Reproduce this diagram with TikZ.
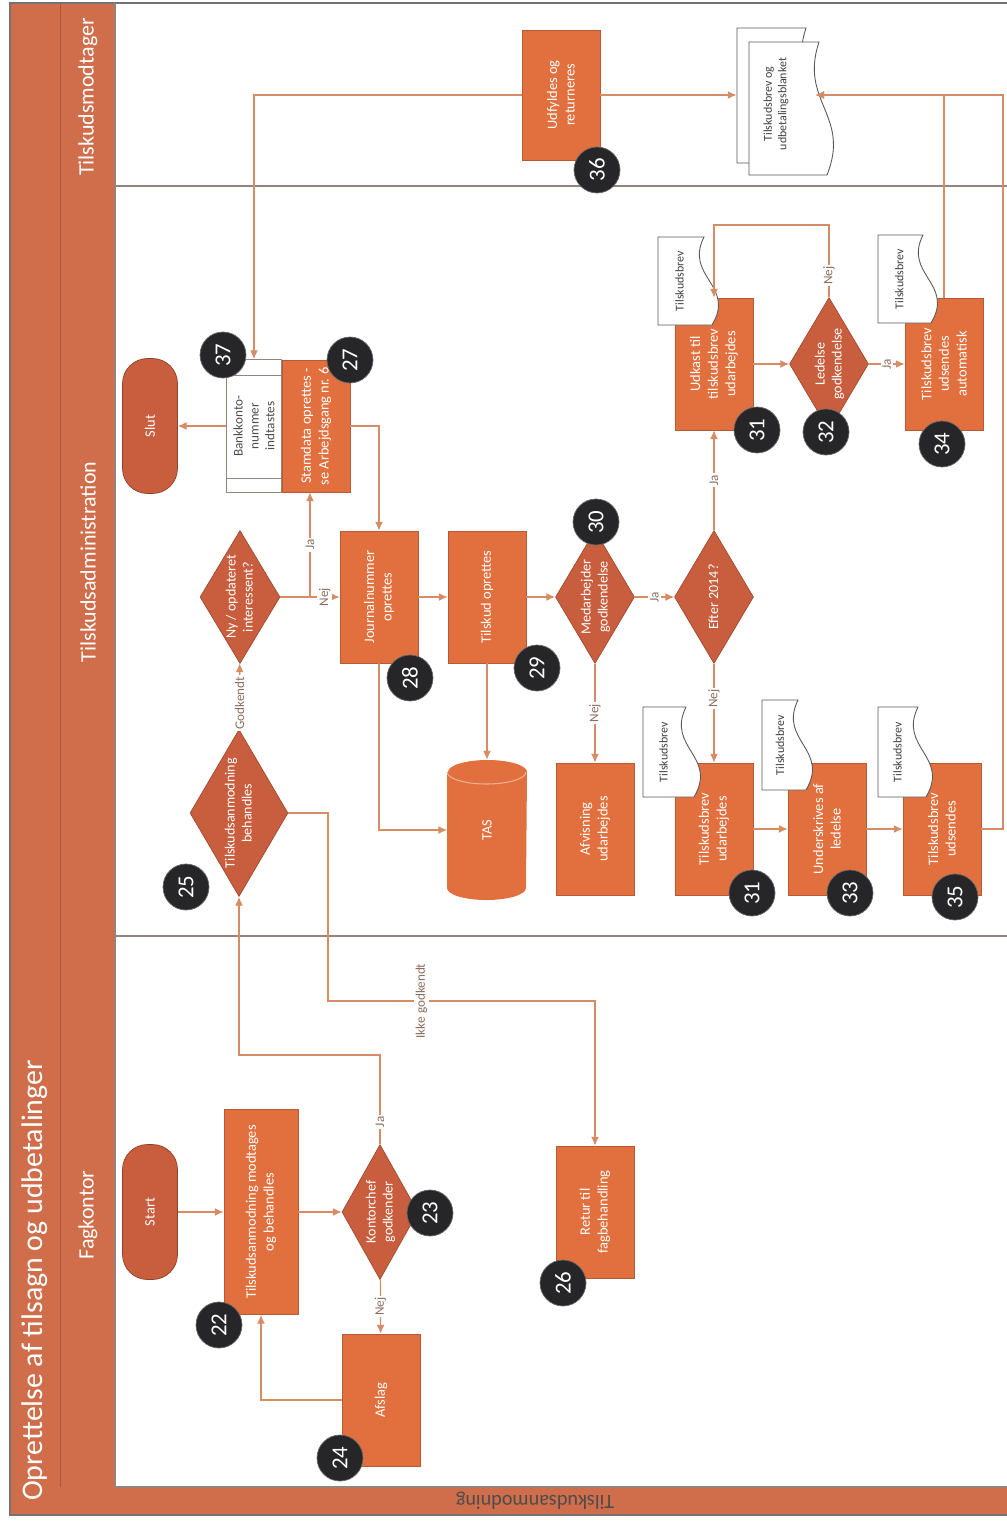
\documentclass[tikz,border=0pt]{standalone}
\usepackage{fontspec}
\setmainfont{Carlito}
\usetikzlibrary{arrows.meta,shapes.geometric,calc}

\definecolor{boxorange}{RGB}{226,112,62}
\definecolor{diaorange}{RGB}{200,94,62}
\definecolor{bandorange}{RGB}{208,110,76}
\definecolor{flowline}{RGB}{214,140,100}
\definecolor{laneline}{RGB}{150,132,124}
\definecolor{badgegray}{RGB}{38,38,40}
\definecolor{lbltext}{RGB}{140,110,95}

% text in a diamond without growing it
\newcommand{\dtext}[1]{\makebox[0pt]{\raisebox{-0.3em}[0pt][0pt]{\begin{tabular}{@{}c@{}}#1\end{tabular}}}}
% document outline, wavy edge to the right
\newcommand{\docpath}[4]{%
  \filldraw[docline] (#1,#2) -- ({#3-14},#2) .. controls ({#3-34},{#2+0.45*(#4-#2)}) and ({#3+18},{#2+0.55*(#4-#2)}) .. ({#3-6},#4) -- (#1,#4) -- cycle;}
\newcommand{\tdoc}[6]{%
  \docpath{#2}{#3}{#4}{#5}
  \node[doctext] (#1) at ({#2+0.36*(#4-#2)},{(#3+#5)/2}) {#6};}

\begin{document}
\begin{tikzpicture}[x=0.02cm,y=-0.02cm,>={Latex[length=5pt,width=4.5pt]},
  box/.style={rectangle,rotate=90,fill=boxorange,draw=boxorange!80!black,line width=0.4pt,text=white,align=center,font=\fontsize{8.2}{10}\selectfont,minimum width=2.64cm,minimum height=1.56cm,inner sep=1pt},
  decision/.style={diamond,rotate=90,fill=diaorange,draw=diaorange!80!black,line width=0.4pt,text=white,font=\fontsize{8}{9.6}\selectfont,minimum width=2.66cm,minimum height=1.58cm,inner sep=0pt},
  terminal/.style={rectangle,rounded corners=0.5cm,rotate=90,fill=diaorange,draw=diaorange!70!black,text=white,font=\fontsize{8.2}{10}\selectfont,minimum width=2.7cm,minimum height=1.1cm},
  subproc/.style={rectangle,rotate=90,fill=white,draw=laneline,text=black!70,align=center,font=\fontsize{7.5}{9}\selectfont,minimum width=2.66cm,minimum height=1.1cm,inner sep=1pt},
  dbtext/.style={rectangle,rotate=90,text=white,font=\fontsize{8.2}{10}\selectfont,minimum width=2.8cm,minimum height=1.58cm},
  badge/.style={circle,fill=badgegray,draw=badgegray!70!white,text=white,rotate=90,font=\fontsize{13}{13}\selectfont,minimum size=0.92cm,inner sep=0pt},
  flow/.style={draw=flowline,line width=0.7pt},
  lbl/.style={rotate=90,fill=white,inner sep=1pt,text=lbltext,font=\fontsize{7.5}{8}\selectfont},
  docline/.style={fill=white,draw=black!65,line width=0.5pt},
  doctext/.style={rotate=90,text=black!75,font=\fontsize{6.8}{8.2}\selectfont,inner sep=0pt},
  lanetext/.style={rotate=90,text=white,font=\fontsize{12.5}{14}\selectfont}]
  \useasboundingbox (0,0) rectangle (1007,1521);

  % ramme og baner
  \fill[bandorange] (10,3) rectangle (115,1515);
  \fill[bandorange] (10,1487) rectangle (1007,1515);
  \draw[black!55,line width=0.8pt] (1007,3) -- (10,3) -- (10,1515) -- (1007,1515);
  \draw[bandorange!80!black,line width=0.5pt] (60,3) -- (60,1487);
  \draw[laneline,line width=0.8pt] (115,3) -- (115,1487) -- (1007,1487);
  \draw[laneline,line width=0.8pt] (115,186) -- (1007,186);
  \draw[laneline,line width=0.8pt] (115,936) -- (1007,936);
  \node[rotate=90,anchor=west,text=white,font=\fontsize{17}{20}\selectfont] (title) at (35,1507) {Oprettelse af tilsagn og udbetalinger};
  \node[lanetext] (laneM) at (88,97) {Tilskudsmodtager};
  \node[lanetext] (laneA) at (88,562) {Tilskudsadministration};
  \node[lanetext] (laneF) at (88,1215) {Fagkontor};
  \node[rotate=180,text=black!70,font=\fontsize{11.5}{13}\selectfont] (bandT) at (535,1501) {Tilskudsanmodning};

  % Fagkontor
  \node[terminal] (start) at (150,1212) {Start};
  \node[box,minimum width=4.1cm,minimum height=1.48cm] (n22) at (261,1212) {Tilskudsanmodning modtages\\og behandles};
  \node[decision,minimum width=2.7cm,minimum height=1.52cm] (n23) at (380,1212) {\dtext{Kontorchef\\godkender}};
  \node[box] (n24) at (381,1400) {Afslag};
  \node[box] (n26) at (595,1212) {Retur til\\fagbehandling};

  % Tilskudsadministration
  \node[decision,minimum width=3.34cm,minimum height=1.96cm] (n25) at (239,813) {\dtext{Tilskudsanmodning\\behandles}};
  \node[decision,minimum height=1.6cm] (nyint) at (240,597) {\dtext{Ny / opdateret\\interessent?}};
  \node[terminal] (slut) at (150,426) {Slut};
  \node[subproc] (n37) at (254,426) {Bankkonto-\\nummer\\indtastes};
  \draw[laneline] (227,375) -- (282,375) (227,478) -- (282,478);
  \node[box,minimum height=1.36cm] (n27) at (316,426) {Stamdata oprettes -\\se Arbejdsgang nr. 6};
  \node[box] (n28) at (379,597) {Journalnummer\\oprettes};
  \node[box] (n29) at (487,597) {Tilskud oprettes};
  % TAS som cylinder
  \fill[boxorange] (447,772) -- (447,888) arc[start angle=180,end angle=360,x radius=0.79cm,y radius=0.24cm]
    -- (527,772) arc[start angle=0,end angle=180,x radius=0.79cm,y radius=0.24cm] -- cycle;
  \draw[boxorange!55!white,line width=0.6pt] (447,772) arc[start angle=180,end angle=360,x radius=0.79cm,y radius=0.24cm];
  \node[dbtext] (tas) at (487,830) {TAS};
  \node[decision] (n30) at (595,597) {\dtext{Medarbejder\\godkendelse}};
  \node[box] (afv) at (595,829) {Afvisning\\udarbejdes};
  \node[decision] (efter) at (714,597) {\dtext{Efter 2014?}};
  \node[box] (n31a) at (714,364) {Udkast til\\tilskudsbrev\\udarbejdes};
  \node[decision] (n32) at (829,364) {\dtext{Ledelse\\godkendelse}};
  \node[box] (n34) at (944,364) {Tilskudsbrev\\udsendes\\automatisk};
  \node[box] (n31b) at (714,829) {Tilskudsbrev\\udarbejdes};
  \node[box] (n33) at (827,829) {Underskrives af\\ledelse};
  \node[box] (n35) at (942,829) {Tilskudsbrev\\udsendes};

  % Tilskudsmodtager
  \node[box,minimum width=2.6cm] (n36) at (561,95) {Udfyldes og\\returneres};
  \docpath{737}{28}{820}{163}
  \docpath{749}{42}{833}{175}
  \node[doctext,align=center,minimum width=2.8cm,minimum height=1.56cm] (mdoc) at (776,104) {Tilskudsbrev og\\udbetalingsblanket};

  % dokumenter
  \tdoc{d31a}{658}{237}{718}{325}{Tilskudsbrev}
  \tdoc{d34}{878}{235}{937}{323}{Tilskudsbrev}
  \tdoc{d31b}{643}{707}{700}{797}{Tilskudsbrev}
  \tdoc{d33}{762}{700}{812}{790}{Tilskudsbrev}
  \tdoc{d35}{878}{707}{932}{797}{Tilskudsbrev}

  % pile, Fagkontor
  \draw[flow,->] (start) -- (n22);
  \draw[flow,->] (n22) -- (n23);
  \draw[flow,->] (n23) -- node[lbl]{Nej} (n24);
  \draw[flow,->] (n24) -| (n22);
  \draw[flow,->] (n23) -- node[lbl,pos=0.25]{Ja} (380,1055) -| (n25);
  \draw[flow,->] (n25) -- (328,813) -- (328,1001) -- node[lbl,pos=0.35]{Ikke godkendt} (595,1001) -- (n26);

  % pile, Tilskudsadministration
  \draw[flow,->] (n25) -- node[lbl,pos=0.4]{Godkendt} (nyint);
  \coordinate (jn) at (310,597);
  \draw[flow] (nyint) -- (jn);
  \draw[flow,->] (jn) -- node[lbl]{Ja} (n27.west -| jn);
  \draw[flow,->] (jn) -- node[lbl]{Nej} (n28);
  \draw[flow,->] (n37) -- (slut);
  \draw[flow,->] (n27) -| (n28);
  \draw[flow,->] (n28) -- (n29);
  \draw[flow,->] (n28) |- (tas);
  \draw[flow,->] (n29) -- (tas);
  \draw[flow,->] (n29) -- (n30);
  \draw[flow,->] (n30) -- node[lbl]{Nej} (afv);
  \draw[flow,->] (n30) -- node[lbl]{Ja} (efter);
  \draw[flow,->] (efter) -- node[lbl]{Ja} (n31a);
  \draw[flow,->] (efter) -- node[lbl,pos=0.35]{Nej} (n31b);
  \draw[flow,->] (n31a) -- (n32);
  \draw[flow,->] (n32) -- node[lbl,pos=0.3]{Nej} (829,225) -| (n31a);
  \draw[flow,->] (n32) -- node[lbl]{Ja} (n34);
  \draw[flow,->] (n31b) -- (n33);
  \draw[flow,->] (n33) -- (n35);

  % pile, Tilskudsmodtager
  \draw[flow,->] (n34) |- (mdoc.south |- n36);
  \draw[flow,->] (n35) -- (1003,829) |- (mdoc.south |- n36);
  \draw[flow,->] (n36) -- (n36 -| mdoc.north);
  \draw[flow,->] (n36) -| (n37);

  % numre
  \foreach \nm/\num/\px/\py in {22/22/219/1325, 23/23/430/1213, 24/24/340/1458, 25/25/186/887,
      26/26/563/1283, 27/27/350/360, 28/28/410/678, 29/29/537/668, 30/30/596/522,
      31a/31/757/430, 32/32/826/432, 33/33/850/893, 34/34/942/444, 35/35/955/897,
      36/36/597/170, 37/37/223/355, 31b/31/752/893}
    \node[badge] (b\nm) at (\px,\py) {\num};
\end{tikzpicture}
\end{document}
